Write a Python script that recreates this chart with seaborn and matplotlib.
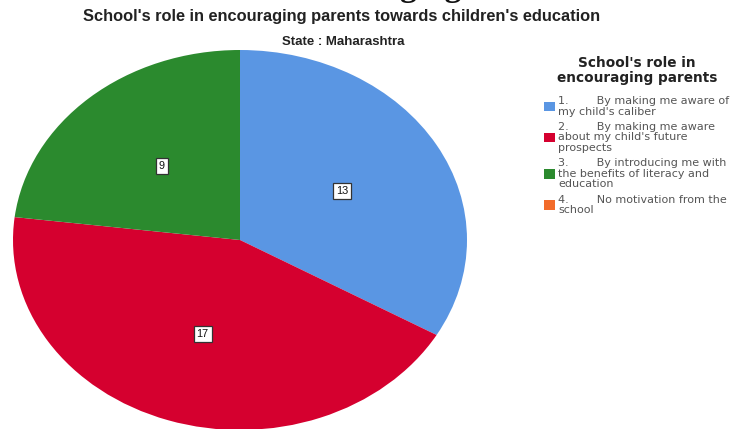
import matplotlib
matplotlib.use("Agg")
import matplotlib.pyplot as plt
import matplotlib.patches as mpatches
import seaborn as sns

# Survey responses, Maharashtra
categories = [
    "1.        By making me aware of\nmy child's caliber",
    "2.        By making me aware\nabout my child's future\nprospects",
    "3.        By introducing me with\nthe benefits of literacy and\neducation",
    "4.        No motivation from the\nschool",
]
counts = [13, 17, 9, 0]
colors = ["#5A96E3", "#D5002F", "#2B8A2E", "#F26B2A"]

sns.set_theme(style="white")
plt.rcParams["font.family"] = ["Liberation Sans", "DejaVu Sans"]

fig = plt.figure(figsize=(7.41, 4.29), dpi=100)

# Pie axes stretched horizontally so the pie is drawn as an ellipse
W, H = 741, 429
ax = fig.add_axes([13 / W, -1 / H, 454 / W, 380 / H])
shown = [(c, col) for c, col in zip(counts, colors) if c > 0]
wedges, texts, autotexts = ax.pie(
    [c for c, _ in shown],
    colors=[col for _, col in shown],
    startangle=90,
    counterclock=False,
    autopct=lambda p: f"{round(p * sum(counts) / 100):d}",
    pctdistance=0.52,
    wedgeprops=dict(linewidth=0),
    textprops=dict(fontsize=7.8, color="#111111"),
)
for t in autotexts:
    t.set_bbox(dict(boxstyle="square,pad=0.28", facecolor="white",
                    edgecolor="#333333", linewidth=0.9))
ax.set_aspect("auto")
ax.set_xlim(-1, 1)
ax.set_ylim(-1, 1)
ax.axis("off")

# Heading of the surrounding page, mostly cut off at the top edge
fig.text(0.5, 1 + 4 / H, "Encouraging", ha="center", va="baseline",
         fontsize=24, fontweight="bold", family="Liberation Serif", color="#111111")

fig.text(342 / W, 1 - 17 / H, "School's role in encouraging parents towards children's education",
         ha="center", va="center", fontsize=11.8, fontweight="bold", color="#222222")
fig.text(343 / W, 1 - 42 / H, "State : Maharashtra",
         ha="center", va="center", fontsize=9.5, fontweight="bold", color="#222222")

handles = [mpatches.Patch(facecolor=c, edgecolor="none") for c in colors]
leg = fig.legend(
    handles, categories,
    title="School's role in\nencouraging parents",
    loc="upper left", bbox_to_anchor=(540 / W, 1 - 52 / H),
    frameon=False,
    prop=dict(family="DejaVu Sans", size=8.0),
    handlelength=0.95, handleheight=0.95, handletextpad=0.3,
    labelspacing=0.5, borderaxespad=0,
)
title = leg.get_title()
title.set_fontproperties(dict(family="DejaVu Sans", weight="bold", size=9.8))
title.set_color("#222222")
title.set_ha("center")
title.set_linespacing(1.05)
leg._legend_box.align = "center"
leg._legend_box.sep = 8
for t in leg.get_texts():
    t.set_color("#555555")
    t.set_linespacing(1.05)

fig.savefig("out.png", dpi=100)
